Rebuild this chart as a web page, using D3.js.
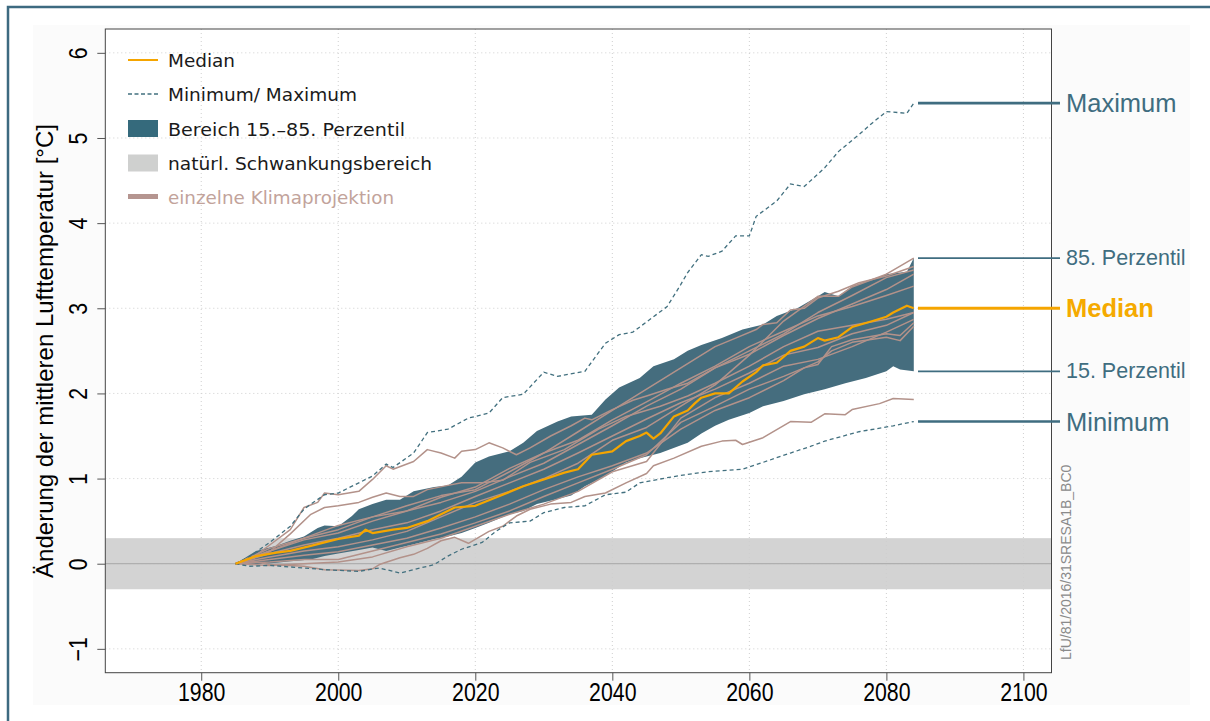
<!DOCTYPE html>
<html><head><meta charset="utf-8">
<script src="https://cdn.jsdelivr.net/npm/d3@7"></script>
<style>body{margin:0;background:#fff}svg{display:block}</style>
</head><body>
<svg id="c" width="1210" height="721"></svg>
<script>
// ---------- data ----------
const xTicks = [1980, 2000, 2020, 2040, 2060, 2080, 2100];
const yTicks = [-1, 0, 1, 2, 3, 4, 5, 6];
const naturalRange = [-0.3, 0.3];

const maxSeries = [[1985,0],[1987,0.08],[1990,0.25],[1993,0.44],[1995,0.64],[1996,0.70],[1998,0.81],[2000,0.83],[2003,0.95],[2005,1.03],[2007,1.17],[2008,1.13],[2011,1.30],[2013,1.54],[2016,1.58],[2019,1.71],[2022,1.77],[2024,1.95],[2027,1.99],[2030,2.25],[2032,2.20],[2036,2.26],[2039,2.59],[2041,2.69],[2043,2.72],[2048,3.02],[2050,3.28],[2051,3.42],[2053,3.63],[2054,3.61],[2056,3.67],[2058,3.85],[2060,3.85],[2061,4.08],[2064,4.26],[2066,4.46],[2068,4.43],[2071,4.65],[2073,4.84],[2076,5.04],[2078,5.18],[2080,5.31],[2083,5.29],[2084,5.41]];
const minSeries = [[1985,0],[1987,-0.03],[1990,-0.02],[1995,-0.05],[1998,-0.07],[2003,-0.09],[2006,-0.05],[2009,-0.11],[2011,-0.07],[2014,-0.01],[2016,0.09],[2018,0.17],[2021,0.25],[2023,0.38],[2025,0.48],[2028,0.50],[2030,0.60],[2033,0.66],[2036,0.68],[2039,0.81],[2042,0.84],[2044,0.95],[2048,1.01],[2051,1.05],[2054,1.08],[2059,1.11],[2062,1.19],[2066,1.30],[2069,1.38],[2071,1.44],[2076,1.55],[2081,1.62],[2084,1.67]];
const p85 = [[1985,0],[1988,0.15],[1991,0.21],[1993,0.27],[1995,0.32],[1997,0.42],[1998,0.45],[2000,0.44],[2002,0.56],[2003,0.64],[2005,0.70],[2007,0.75],[2009,0.75],[2011,0.85],[2014,0.90],[2016,0.92],[2018,1.02],[2020,1.19],[2022,1.26],[2025,1.32],[2027,1.42],[2029,1.56],[2032,1.67],[2034,1.73],[2037,1.75],[2039,1.93],[2041,2.07],[2044,2.18],[2046,2.32],[2049,2.40],[2051,2.50],[2053,2.57],[2056,2.65],[2059,2.75],[2062,2.81],[2064,2.91],[2067,3.00],[2070,3.14],[2071,3.19],[2073,3.14],[2075,3.26],[2078,3.34],[2080,3.40],[2083,3.43],[2084,3.59]];
const p15 = [[1985,0],[1988,-0.01],[1991,0.01],[1993,0.03],[1996,0.05],[1998,0.09],[2000,0.12],[2003,0.16],[2005,0.19],[2007,0.15],[2009,0.19],[2011,0.23],[2014,0.29],[2016,0.32],[2018,0.36],[2020,0.42],[2022,0.48],[2025,0.58],[2027,0.62],[2029,0.70],[2032,0.76],[2034,0.80],[2036,0.91],[2039,1.03],[2042,1.19],[2044,1.24],[2047,1.30],[2051,1.42],[2053,1.53],[2055,1.62],[2057,1.69],[2060,1.77],[2062,1.85],[2065,1.91],[2068,1.99],[2071,2.05],[2074,2.12],[2077,2.18],[2080,2.26],[2081,2.32],[2082,2.28],[2084,2.26]];
const medianSeries = [[1985,0],[1987,0.06],[1988,0.09],[1991,0.13],[1993,0.15],[1996,0.21],[1998,0.25],[2000,0.29],[2003,0.33],[2004,0.40],[2005,0.36],[2008,0.40],[2010,0.42],[2013,0.50],[2015,0.58],[2017,0.66],[2020,0.68],[2024,0.81],[2027,0.91],[2030,0.99],[2033,1.07],[2035,1.11],[2037,1.28],[2040,1.32],[2042,1.44],[2044,1.50],[2045,1.54],[2046,1.47],[2047,1.53],[2049,1.73],[2051,1.80],[2052,1.88],[2053,1.95],[2055,2.00],[2057,2.00],[2059,2.14],[2061,2.25],[2062,2.33],[2064,2.36],[2066,2.50],[2068,2.55],[2070,2.65],[2071,2.62],[2073,2.66],[2075,2.78],[2078,2.85],[2080,2.90],[2081,2.95],[2083,3.03],[2084,3.00]];

const projA = [[1985,0],[1988,0.10],[1990,0.22],[1993,0.40],[1995,0.66],[1997,0.72],[1998,0.83],[2000,0.81],[2003,0.85],[2005,0.99],[2007,1.15],[2008,1.11],[2011,1.20],[2013,1.34],[2015,1.30],[2017,1.24],[2018,1.32],[2020,1.34],[2022,1.42],[2024,1.36],[2026,1.28],[2028,1.36],[2031,1.50],[2034,1.62],[2036,1.71],[2037,1.69],[2040,1.81],[2043,1.92],[2045,1.97],[2048,2.05],[2051,2.12],[2055,2.30],[2060,2.46],[2065,2.68],[2070,2.88],[2075,3.05],[2080,3.22],[2084,3.40]];
const projB = [[1985,0],[1988,0.02],[1990,-0.01],[1995,-0.03],[1998,-0.07],[2003,-0.08],[2005,-0.06],[2006,-0.01],[2009,0.07],[2011,0.11],[2013,0.18],[2015,0.27],[2017,0.31],[2019,0.24],[2022,0.38],[2024,0.44],[2026,0.56],[2028,0.64],[2031,0.70],[2034,0.72],[2036,0.79],[2039,0.83],[2042,0.95],[2045,1.06],[2046,1.15],[2049,1.24],[2053,1.38],[2056,1.44],[2058,1.45],[2059,1.40],[2062,1.48],[2066,1.67],[2069,1.66],[2071,1.76],[2074,1.75],[2075,1.81],[2079,1.88],[2081,1.94],[2084,1.93]];
const projC = [[1985,0],[1988,0.08],[1990,0.14],[1993,0.35],[1996,0.58],[1998,0.66],[2000,0.68],[2003,0.72],[2005,0.78],[2007,0.83],[2009,0.79],[2011,0.79],[2013,0.87],[2016,0.92],[2018,0.95],[2021,0.95],[2024,0.98],[2028,1.19],[2033,1.34],[2038,1.58],[2042,1.73],[2047,1.85],[2051,1.97],[2055,2.12],[2060,2.32],[2065,2.55],[2070,2.73],[2075,2.80],[2080,2.87],[2084,2.95]];
const projD = [[1985,0],[1990,0.18],[1995,0.30],[2000,0.40],[2005,0.55],[2010,0.62],[2015,0.78],[2020,0.90],[2025,1.12],[2030,1.30],[2035,1.55],[2040,1.80],[2045,2.05],[2050,2.30],[2055,2.55],[2058,2.65],[2061,2.75],[2062,2.81],[2064,2.83],[2066,2.98],[2068,3.00],[2070,3.12],[2073,3.20],[2076,3.30],[2080,3.38],[2084,3.49]];
const projE = [[1985,0],[1990,0.08],[1995,0.15],[2000,0.20],[2005,0.28],[2010,0.38],[2015,0.55],[2020,0.72],[2025,0.85],[2030,1.00],[2035,1.18],[2040,1.45],[2045,1.60],[2050,1.85],[2055,2.10],[2060,2.45],[2065,2.85],[2070,3.14],[2073,3.14],[2075,3.25],[2080,3.40],[2084,3.59]];
const projF = [[1985,0],[1990,0.15],[1995,0.28],[2000,0.36],[2005,0.50],[2010,0.62],[2015,0.72],[2020,0.85],[2025,1.02],[2030,1.18],[2035,1.40],[2040,1.62],[2045,1.85],[2050,2.05],[2055,2.30],[2060,2.50],[2065,2.70],[2070,2.95],[2075,3.15],[2080,3.36],[2084,3.45]];
const projG = [[1985,0],[1990,0.05],[1995,0.10],[2000,0.14],[2005,0.22],[2010,0.30],[2015,0.42],[2020,0.55],[2025,0.70],[2030,0.87],[2035,1.02],[2040,1.15],[2045,1.30],[2050,1.58],[2055,1.80],[2060,1.95],[2065,2.15],[2068,2.30],[2070,2.34],[2072,2.55],[2075,2.63],[2080,2.70],[2082,2.68],[2084,2.83]];
const projH = [[1985,0],[1990,0.02],[1995,0.05],[2000,0.05],[2005,0.15],[2010,0.25],[2015,0.35],[2020,0.48],[2025,0.62],[2030,0.79],[2035,0.95],[2040,1.11],[2045,1.28],[2050,1.66],[2055,1.85],[2060,2.05],[2065,2.20],[2068,2.30],[2070,2.37],[2072,2.50],[2075,2.60],[2080,2.66],[2082,2.62],[2084,2.79]];
const projI = [[1985,0],[1990,0.12],[1995,0.22],[2000,0.30],[2005,0.40],[2010,0.48],[2015,0.62],[2020,0.79],[2025,0.95],[2030,1.11],[2035,1.30],[2040,1.50],[2045,1.70],[2050,1.89],[2055,2.05],[2060,2.24],[2065,2.45],[2070,2.54],[2075,2.70],[2080,2.80],[2084,2.95]];
const projJ = [[1985,0],[1990,0.15],[1995,0.30],[2000,0.45],[2005,0.55],[2010,0.68],[2015,0.80],[2020,0.87],[2025,1.08],[2030,1.30],[2035,1.45],[2040,1.69],[2045,1.90],[2050,2.12],[2055,2.32],[2060,2.55],[2065,2.73],[2070,2.91],[2075,3.02],[2080,3.15],[2084,3.26]];
const projK = [[1985,0],[1990,-0.02],[1995,0.00],[2000,0.02],[2005,0.08],[2010,0.20],[2015,0.30],[2020,0.44],[2025,0.58],[2030,0.70],[2035,0.85],[2040,1.08],[2045,1.20],[2050,1.71],[2055,1.95],[2060,2.12],[2065,2.32],[2070,2.40],[2075,2.55],[2080,2.72],[2084,2.87]];
const projections = [projA, projB, projC, projD, projE, projF, projG, projH, projI, projJ, projK];

const annoLabels = ["Maximum", "85. Perzentil", "Median", "15. Perzentil", "Minimum"];
const annoValues = [5.41, 3.59, 3.00, 2.26, 1.67];

const legendLabels = ["Median", "Minimum/ Maximum", "Bereich 15.\u201385. Perzentil", "nat\u00fcrl. Schwankungsbereich", "einzelne Klimaprojektion"];

const yTitle = "\u00c4nderung der mittleren Lufttemperatur [\u00b0C]";
const sourceNote = "LfU/81/2016/31SRESA1B_BC0";

// ---------- styles ----------
const C = {
  frame: "#3d6a80", band: "#456d7e", dash: "#42707f", proj: "#b3928a",
  median: "#f5a500", gray: "#d3d3d3", grid: "#cfcfcf", anno: "#3f6d80"
};

const svg = d3.select("#c");
const W = 1210, H = 721;
const L = 105.3, R = 1051.5, T = 29, B = 672.7;

const x = d3.scaleLinear().domain([1966, 2104.1]).range([L, R]);
const y = d3.scaleLinear().domain([-1.28, 6.28]).range([B, T]);

// device background & frame
svg.append("rect").attr("x", 33).attr("y", 25).attr("width", 1157).attr("height", 680).attr("fill", "#fbfbfb");
svg.append("rect").attr("x", 8).attr("y", 7).attr("width", 1300).attr("height", 800)
  .attr("fill", "none").attr("stroke", C.frame).attr("stroke-width", 2.5);
svg.append("rect").attr("x", L).attr("y", T).attr("width", R - L).attr("height", B - T).attr("fill", "#fff");

const plot = svg.append("g");
const clipId = "pc";
svg.append("clipPath").attr("id", clipId).append("rect").attr("x", L).attr("y", T).attr("width", R - L).attr("height", B - T);
plot.attr("clip-path", `url(#${clipId})`);

// natural variability band
plot.append("rect").attr("x", L).attr("width", R - L)
  .attr("y", y(naturalRange[1])).attr("height", y(naturalRange[0]) - y(naturalRange[1]))
  .attr("fill", C.gray);

// grid
plot.selectAll(".gx").data(xTicks).join("line")
  .attr("x1", d => x(d)).attr("x2", d => x(d)).attr("y1", T).attr("y2", B)
  .attr("stroke", C.grid).attr("stroke-width", 1).attr("stroke-dasharray", "1,3");
plot.selectAll(".gy").data(yTicks).join("line")
  .attr("y1", d => y(d)).attr("y2", d => y(d)).attr("x1", L).attr("x2", R)
  .attr("stroke", C.grid).attr("stroke-width", 1).attr("stroke-dasharray", "1,3");

// zero line
plot.append("line").attr("x1", L).attr("x2", R).attr("y1", y(0)).attr("y2", y(0))
  .attr("stroke", "#a6a6a6").attr("stroke-width", 1);

const line = d3.line().x(d => x(d[0])).y(d => y(d[1]));

// percentile band
const bandPts = p85.concat(p15.slice().reverse());
plot.append("path").attr("d", line(bandPts) + "Z").attr("fill", C.band).attr("stroke", "none");

// individual projections
plot.selectAll(".proj").data(projections).join("path")
  .attr("d", line).attr("fill", "none").attr("stroke", C.proj).attr("stroke-width", 1.5)
  .attr("stroke-linejoin", "round");

// min / max
[maxSeries, minSeries].forEach(s => {
  plot.append("path").attr("d", line(s)).attr("fill", "none").attr("stroke", C.dash)
    .attr("stroke-width", 1.3).attr("stroke-dasharray", "4,3");
});

// median
plot.append("path").attr("d", line(medianSeries)).attr("fill", "none").attr("stroke", C.median)
  .attr("stroke-width", 2.2).attr("stroke-linejoin", "round");

// plot box
svg.append("rect").attr("x", L).attr("y", T).attr("width", R - L).attr("height", B - T)
  .attr("fill", "none").attr("stroke", "#444").attr("stroke-width", 1);

// axes
const xAxis = svg.append("g").attr("transform", `translate(0,${B})`)
  .call(d3.axisBottom(x).tickValues(xTicks).tickSize(8).tickFormat(d3.format("d")));
xAxis.select(".domain").remove();
xAxis.selectAll("line").attr("stroke", "#555");
xAxis.selectAll("text").attr("y", 0).attr("dy", null)
  .attr("font-family", "'Liberation Sans', Arial, sans-serif").attr("font-size", 26).attr("fill", "#000")
  .attr("text-anchor", "middle")
  .attr("transform", "translate(0,28) scale(0.82,1)");

const yAxis = svg.append("g").attr("transform", `translate(${L},0)`)
  .call(d3.axisLeft(y).tickValues(yTicks).tickSize(8).tickFormat(d => d < 0 ? "\u2212" + Math.abs(d) : d));
yAxis.select(".domain").remove();
yAxis.selectAll("line").attr("stroke", "#555");
yAxis.selectAll("text").attr("x", 0).attr("dy", null).attr("y", 0)
  .attr("font-family", "'Liberation Sans', Arial, sans-serif").attr("font-size", 26).attr("fill", "#000")
  .attr("text-anchor", "middle")
  .attr("transform", "translate(-18,0) scale(1,0.82) rotate(-90)");

// y title
svg.append("text").attr("transform", "translate(53,351) rotate(-90)")
  .attr("text-anchor", "middle").attr("font-family", "'Liberation Sans', Arial, sans-serif")
  .attr("font-size", 24).attr("fill", "#000").text(yTitle);

// source note
svg.append("text").attr("transform", "translate(1071,660) rotate(-90)")
  .attr("font-family", "'Liberation Sans', Arial, sans-serif").attr("font-size", 14)
  .attr("fill", "#8a8a8a").text(sourceNote);

// legend
const lg = svg.append("g");
const rowY = [60, 94, 128.5, 163, 196.5];
const lgWidths = [67, 189, 237, 264, 226];
const lgColors = ["#1a1a1a", "#1a1a1a", "#1a1a1a", "#1a1a1a", "#c2a39b"];
lg.append("line").attr("x1", 128).attr("x2", 158).attr("y1", rowY[0]).attr("y2", rowY[0])
  .attr("stroke", C.median).attr("stroke-width", 2);
lg.append("line").attr("x1", 128).attr("x2", 158).attr("y1", rowY[1]).attr("y2", rowY[1])
  .attr("stroke", C.dash).attr("stroke-width", 1.5).attr("stroke-dasharray", "4,2.5");
lg.append("rect").attr("x", 128).attr("y", rowY[2] - 8.5).attr("width", 30).attr("height", 17).attr("fill", "#356a7c");
lg.append("rect").attr("x", 128).attr("y", rowY[3] - 8.5).attr("width", 30).attr("height", 17).attr("fill", "#cfd0cf");
lg.append("line").attr("x1", 128).attr("x2", 158).attr("y1", rowY[4]).attr("y2", rowY[4])
  .attr("stroke", "#b59590").attr("stroke-width", 5);
lg.selectAll(".lt").data(legendLabels).join("text")
  .attr("x", 168).attr("y", (d, i) => rowY[i] + 7)
  .attr("font-family", "'DejaVu Sans', 'Noto Sans', sans-serif").attr("font-size", 17.5)
  .attr("fill", (d, i) => lgColors[i])
  .attr("textLength", (d, i) => lgWidths[i]).attr("lengthAdjust", "spacingAndGlyphs")
  .text(d => d);

// right-hand annotations
const annoSizes = [25.5, 21.5, 25.5, 21.5, 25.5];
const annoWidths = [2.7, 1.8, 3, 1.8, 2.7];
annoValues.forEach((v, i) => {
  const isMed = i === 2;
  svg.append("line").attr("x1", 918).attr("x2", 1060).attr("y1", y(v)).attr("y2", y(v))
    .attr("stroke", isMed ? C.median : C.anno).attr("stroke-width", annoWidths[i]);
  svg.append("text").attr("x", 1066).attr("y", y(v)).attr("dominant-baseline", "central")
    .attr("font-family", "'Liberation Sans', Arial, sans-serif").attr("font-size", annoSizes[i])
    .attr("font-weight", isMed ? "bold" : "normal")
    .attr("fill", isMed ? "#f5aa00" : C.anno).text(annoLabels[i]);
});
</script>
</body></html>
